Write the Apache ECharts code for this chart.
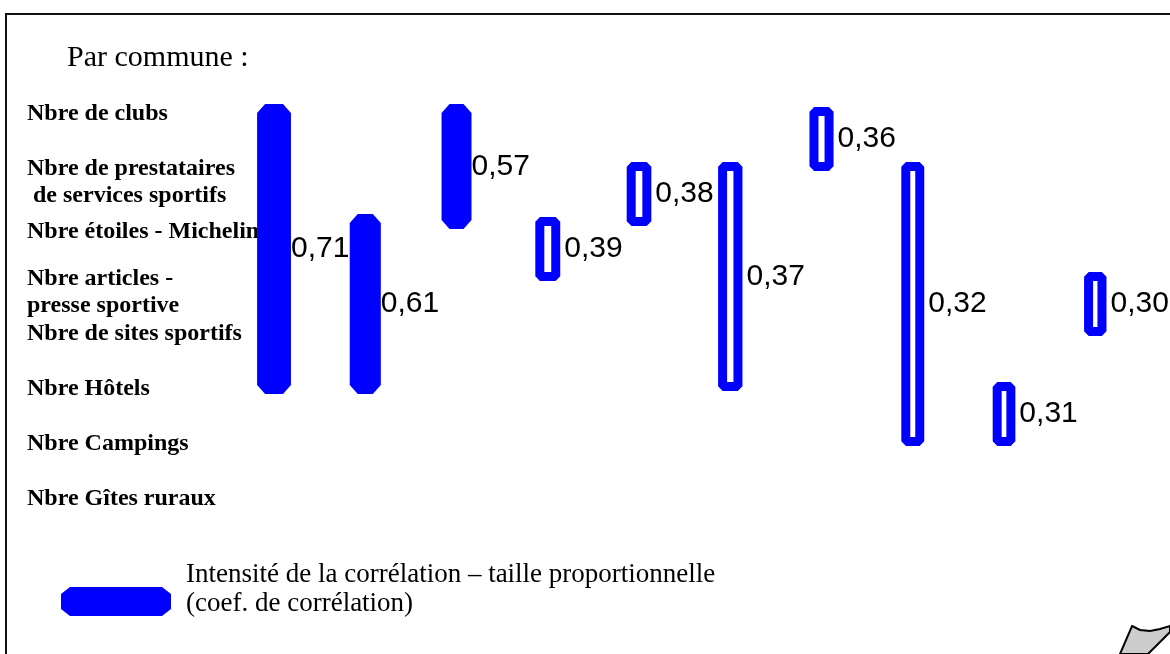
<!DOCTYPE html>
<html><head><meta charset="utf-8">
<script src="https://cdn.jsdelivr.net/npm/echarts@6/dist/echarts.min.js"></script>
<style>html,body{margin:0;padding:0;background:#fff}#c{width:1170px;height:654px}</style>
</head><body><div id="c"></div>
<script>
// ---- data ----
const titleText = 'Par commune :';
const rowNames = [
  'Nbre de clubs',
  'Nbre de prestataires\n de services sportifs',
  'Nbre étoiles - Michelin',
  'Nbre articles -\npresse sportive',
  'Nbre de sites sportifs',
  'Nbre Hôtels',
  'Nbre Campings',
  'Nbre Gîtes ruraux'
];
const coefs   = [0.71, 0.61, 0.57, 0.39, 0.38, 0.37, 0.36, 0.32, 0.31, 0.30];
const fromRow = [0, 2, 0, 2, 1, 1, 0, 1, 5, 3];
const toRow   = [5, 5, 2, 3, 2, 5, 1, 6, 6, 4];
const legendLines = ['Intensité de la corrélation – taille proportionnelle', '(coef. de corrélation)'];
const strongThreshold = 0.5;

// ---- chart ----
const seriesData = coefs.map((c, i) => [i, fromRow[i], toRow[i], c]);
const LABEL_FONT = {fontFamily: 'Liberation Serif', fontWeight: 'bold', fontSize: 24, color: '#000', lineHeight: 27};

function chamfer(x0, y0, x1, y1, cx, cy) {
  return [[x0 + cx, y0], [x1 - cx, y0], [x1, y0 + cy], [x1, y1 - cy],
          [x1 - cx, y1], [x0 + cx, y1], [x0, y1 - cy], [x0, y0 + cy]];
}

const BLUE = '#0000ff';
const chart = echarts.init(document.getElementById('c'), null, {renderer: 'canvas'});
chart.setOption({
  backgroundColor: '#fff',
  animation: false,
  title: {
    text: titleText, left: 62, top: 38,
    textStyle: {fontFamily: 'Liberation Serif', fontWeight: 'normal', fontSize: 30, color: '#000'}
  },
  grid: {left: 228.4, width: 912.5, top: 86.5, height: 440, outerBoundsMode: 'none', containLabel: false},
  xAxis: {type: 'value', min: -0.5, max: 9.5, show: false},
  yAxis: {
    type: 'category', data: rowNames, inverse: true,
    axisLine: {show: false}, axisTick: {show: false}, splitLine: {show: false},
    axisLabel: Object.assign({
      align: 'left', margin: 201.4,
      formatter: (v, i) => {
        if (v.indexOf('\n') >= 0) return '\n' + v;           // first line on the row
        if (v.indexOf('Michelin') >= 0) return '{low|' + v + '}'; // sits a bit lower in the original
        return v;
      },
      rich: {low: Object.assign({padding: [16, 0, 0, 0]}, LABEL_FONT)}
    }, LABEL_FONT)
  },
  series: [{
    type: 'custom',
    clip: false,
    z: 5,
    encode: {x: 0, y: [1, 2]},
    data: seriesData,
    renderItem: function (params, api) {
      const xi = api.value(0), c = api.value(3);
      const top = api.coord([xi, api.value(1)]);
      const bot = api.coord([xi, api.value(2)]);
      const cx = top[0];
      const w = 14 + 28 * c;
      const strong = c >= strongThreshold;
      let points, style, dist;
      if (strong) {
        points = chamfer(cx - w / 2, top[1] - 10, cx + w / 2, bot[1] + 5, 8, 9);
        style = {fill: BLUE};
        dist = 0;
      } else {
        const lw = 9;
        points = chamfer(cx - w / 2 + lw / 2, top[1] - 7 + lw / 2, cx + w / 2 - lw / 2, bot[1] + 2 - lw / 2, 2, 2);
        style = {fill: 'none', stroke: BLUE, lineWidth: lw};
        dist = 4;
      }
      return {
        type: 'polygon', shape: {points: points}, style: style,
        textContent: {style: {text: c.toFixed(2).replace('.', ','), font: '30px "Liberation Sans"', fill: '#000'}},
        textConfig: {position: 'right', distance: dist}
      };
    }
  }],
  graphic: [
    {type: 'rect', shape: {x: 6, y: 14, width: 1400, height: 900}, style: {fill: 'none', stroke: '#111', lineWidth: 2}, z: 0},
    {type: 'polygon', shape: {points: chamfer(61, 587, 171, 616, 9, 7)}, style: {fill: BLUE}},
    {type: 'text', x: 186, y: 575, style: {text: legendLines[0], font: '27px "Liberation Serif"', fill: '#000', verticalAlign: 'middle'}},
    {type: 'text', x: 186, y: 604, style: {text: legendLines[1], font: '27px "Liberation Serif"', fill: '#000', verticalAlign: 'middle'}},
    {type: 'polygon', shape: {points: [[1132, 626], [1140, 630], [1150, 631], [1160, 629], [1170, 626], [1170, 632], [1148, 654], [1120, 654]]},
     style: {fill: '#cccccc', stroke: '#000', lineWidth: 2}}
  ]
});
</script>
</body></html>
